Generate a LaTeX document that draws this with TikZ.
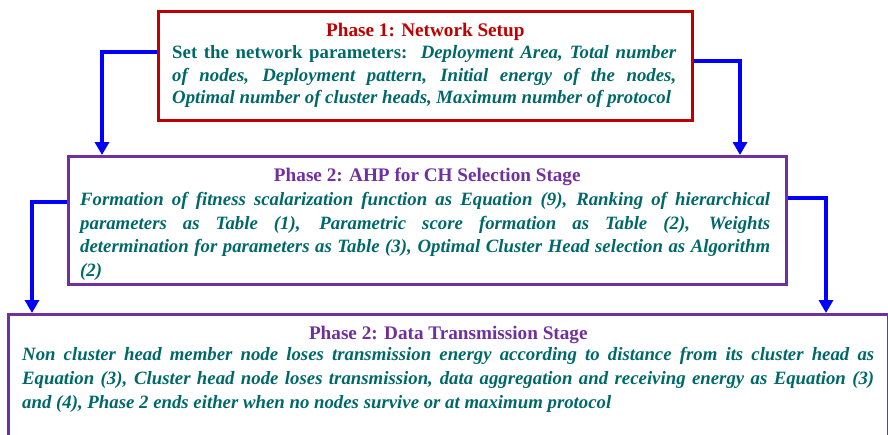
\documentclass[tikz,border=0pt]{standalone}
\usepackage{fontspec}
\setmainfont{Liberation Serif}
\usetikzlibrary{arrows.meta,calc}
\definecolor{ttext}{RGB}{0,104,104}
\definecolor{pred}{RGB}{192,0,0}
\definecolor{ppurple}{RGB}{112,48,160}
\definecolor{ablue}{RGB}{0,0,255}
\tikzset{
  phasebox/.style={draw, line width=2.6pt, anchor=north west, inner sep=0pt},
  titletext/.style={font=\fontsize{19.2}{22}\selectfont\bfseries, inner sep=0pt, anchor=base},
  bodytext/.style={text=ttext, align=justify, inner sep=0pt, anchor=north west},
  flowarrow/.style={draw=ablue, line width=4pt, -{Triangle[width=14pt,length=13pt]}},
}
\newcommand{\bodyfont}[1]{\fontsize{18.8}{#1}\selectfont\bfseries\itshape\hyphenpenalty=10000\exhyphenpenalty=10000}
\begin{document}
\begin{tikzpicture}[x=1pt,y=-1pt]
\useasboundingbox (0,0) rectangle (888,434);
\clip (0,0) rectangle (888,434);
% boxes
\node[phasebox, draw=pred, minimum width=534pt, minimum height=109pt] (p1) at (157,10) {};
\node[phasebox, draw=ppurple, minimum width=718pt, minimum height=128pt] (p2) at (67,155) {};
\node[phasebox, draw=ppurple, minimum width=880pt, minimum height=140pt] (p3) at (7,313) {};
% titles
\node[titletext, text=pred] (t1) at ($(p1.north)+(0,26.5)$) {Phase 1: Network Setup};
\node[titletext, text=ppurple] (t2) at ($(p2.north)+(0,26.5)$) {Phase 2: AHP for CH Selection Stage};
\node[titletext, text=ppurple] (t3) at ($(p3.north)+(0,26.5)$) {Phase 2: Data Transmission Stage};
% bodies
\node[bodytext, text width=504pt, font=\bodyfont{22.5}] (b1) at (172,45.5) {{\upshape Set the network parameters:}\ \ Deployment Area, Total number\linebreak of nodes, Deployment pattern, Initial energy of the nodes,\linebreak Optimal number of cluster heads, Maximum number of protocol};
\node[bodytext, text width=690pt, font=\bodyfont{23.4}] (b2) at (80,192.5) {Formation of fitness scalarization function as Equation (9), Ranking of hierarchical\linebreak parameters as Table (1), Parametric score formation as Table (2), Weights\linebreak determination for parameters as Table (3), Optimal Cluster Head selection as Algorithm\linebreak (2)};
\node[bodytext, text width=852pt, font=\bodyfont{24}] (b3) at (22,347.5) {Non cluster head member node loses transmission energy according to distance from its cluster head as\linebreak Equation (3), Cluster head node loses transmission, data aggregation and receiving energy as Equation (3)\linebreak and (4), Phase 2 ends either when no nodes survive or at maximum protocol};
% connectors
\draw[flowarrow] ($(p1.north west)+(0,42)$) -| ($(p2.north west)+(35,0)$);
\draw[flowarrow] ($(p1.north east)+(0,51)$) -| ($(p2.north west)+(673,0)$);
\draw[flowarrow] ($(p2.north west)+(0,47)$) -| ($(p3.north west)+(25,0)$);
\draw[flowarrow] ($(p2.north east)+(0,43)$) -| ($(p3.north west)+(819,0)$);
\end{tikzpicture}
\end{document}
